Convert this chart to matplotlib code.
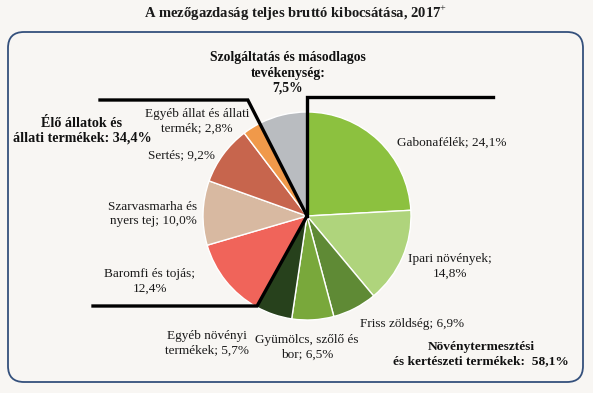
import numpy as np
import matplotlib
matplotlib.use("Agg")
import matplotlib.pyplot as plt
from matplotlib.patches import FancyBboxPatch

# adatok
categories = ["Gabonafélék", "Ipari növények", "Friss zöldség", "Gyümölcs, szőlő és bor",
              "Egyéb növényi termékek", "Baromfi és tojás", "Szarvasmarha és nyers tej",
              "Sertés", "Egyéb állat és állati termék", "Szolgáltatás és másodlagos tevékenység"]
values = [24.1, 14.8, 6.9, 6.5, 5.7, 12.4, 10.0, 9.2, 2.8, 7.5]
colors = ["#8cc13f", "#afd47c", "#5f8a35", "#79a83b", "#27411c",
          "#f0645a", "#d8b9a1", "#c7654d", "#f0994a", "#b9bcc0"]
labels = ["Gabonafélék; 24,1%", "Ipari növények;\n14,8%", "Friss zöldség; 6,9%",
          "Gyümölcs, szőlő és\nbor; 6,5%", "Egyéb növényi\ntermékek; 5,7%",
          "Baromfi és tojás;\n12,4%", "Szarvasmarha és\nnyers tej; 10,0%", "Sertés; 9,2%",
          "Egyéb állat és állati\ntermék; 2,8%", None]
group_labels = ["Növénytermesztési\nés kertészeti termékek:  58,1%",
                "Élő állatok és\nállati termékek: 34,4%",
                "Szolgáltatás és másodlagos\ntevékenység:\n7,5%"]
title = "A mezőgazdaság teljes bruttó kibocsátása, 2017$^{+}$"

W, H = 593, 393
bg = "#f8f6f3"
plt.rcParams['font.family'] = ['Liberation Serif', 'DejaVu Serif']
plt.rcParams['mathtext.fontset'] = 'custom'
plt.rcParams['mathtext.rm'] = 'Liberation Serif'

fig = plt.figure(figsize=(W / 100, H / 100), dpi=100, facecolor=bg)
ax = fig.add_axes([0, 0, 1, 1])

def py(y):
    # pixelek fentről -> adat koordináta
    return H - y

# keret
box = FancyBboxPatch((8, py(382)), 575, 350, boxstyle="round,pad=0,rounding_size=16",
                     facecolor=bg, edgecolor="#34507c", linewidth=1.3, zorder=0)
ax.add_patch(box)

cx, cy, r = 307, py(216), 104
ax.pie(values, colors=colors, startangle=90, counterclock=False, center=(cx, cy), radius=r,
       wedgeprops=dict(edgecolor="white", linewidth=1.0), frame=True)
ax.set_xlim(0, W)
ax.set_ylim(0, H)
ax.set_aspect('equal')
ax.axis('off')

# szeletek határai (szög) az adatokból
total = sum(values)
cum = np.cumsum(values) / total
ang_serv = np.deg2rad(90 - 360 * cum[8])    # állati / szolgáltatás határ
ang_plant = np.deg2rad(90 - 360 * cum[4])   # növényi / állati határ

# fekete csoport vonalak
lw = 2.4
ax.plot([cx, cx, 493], [cy, py(97), py(97)], color="black", lw=lw, solid_joinstyle='miter')
t_up = (py(100) - cy) / np.sin(ang_serv)
x_up = cx + t_up * np.cos(ang_serv)
t_dn = (py(306) - cy) / np.sin(ang_plant)
x_dn = cx + t_dn * np.cos(ang_plant)
ax.plot([100, x_up, cx, x_dn, 93], [py(100), py(100), cy, py(306), py(306)],
        color="black", lw=lw, solid_joinstyle='miter')

# címkék
label_pos = [(452, 143), (450, 266), (412, 324), (307, 347), (207, 343),
             (150, 281), (153, 214), (182, 156), (197, 121), None]
fs = 9.5
for lab, pos in zip(labels, label_pos):
    if lab is None:
        continue
    ax.text(pos[0], py(pos[1]), lab, ha='center', va='center', fontsize=fs,
            color="#1a1a1a", linespacing=1.3)

ax.text(481, py(354), group_labels[0], ha='center', va='center', fontsize=9.6,
        fontweight='bold', color="#111111", linespacing=1.3)
ax.text(82, py(131), group_labels[1], ha='center', va='center', fontsize=10.2,
        fontweight='bold', color="#111111", linespacing=1.2)
ax.text(288, py(73), group_labels[2], ha='center', va='center', fontsize=9.8,
        fontweight='bold', color="#111111", linespacing=1.25)

ax.text(296, py(13), title, ha='center', va='center', fontsize=10.5,
        fontweight='bold', color="#1a1a1a")

fig.savefig("out.png", dpi=100, facecolor=bg)
